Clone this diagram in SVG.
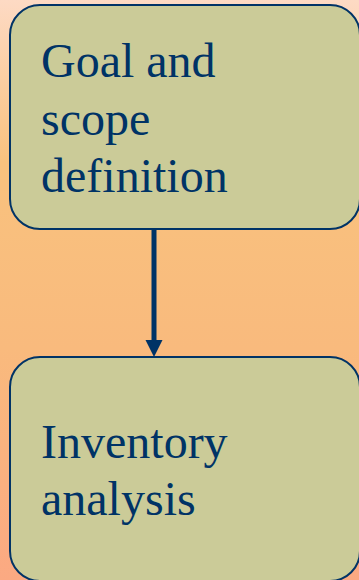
<svg xmlns="http://www.w3.org/2000/svg" width="359" height="580" viewBox="0 0 359 580">
  <defs>
    <linearGradient id="bg" x1="0" y1="0" x2="0" y2="1">
      <stop offset="0" stop-color="#FDDAC4"/>
      <stop offset="0.28" stop-color="#F9C27E"/>
      <stop offset="0.6" stop-color="#F9BA7D"/>
      <stop offset="1" stop-color="#FBA982"/>
    </linearGradient>
    <marker id="head" viewBox="0 0 10 10" refX="10" refY="5" markerWidth="17" markerHeight="17" markerUnits="userSpaceOnUse" orient="auto">
      <path d="M0,0 L10,5 L0,10 Z" fill="#003366"/>
    </marker>
  </defs>
  <style>
    .box { fill: #CBCB98; stroke: #003366; stroke-width: 2; }
    .label { font-family: "Liberation Serif", "Times New Roman", serif; font-size: 48px; fill: #003366; }
    .link { stroke: #003366; stroke-width: 5; fill: none; }
  </style>

  <rect x="0" y="0" width="359" height="580" fill="url(#bg)"/>

  <g id="connectors">
    <line class="link" x1="154" y1="229" x2="154" y2="342"/>
    <path d="M145.5,340 L162.5,340 L154,357 Z" fill="#003366"/>
  </g>

  <g id="goal-scope">
    <rect class="box" x="10" y="5" width="350" height="224" rx="30" ry="30"/>
    <text class="label" x="41" y="77">Goal and</text>
    <text class="label" x="41" y="135">scope</text>
    <text class="label" x="41" y="192">definition</text>
  </g>

  <g id="inventory">
    <rect class="box" x="10" y="357" width="350" height="224" rx="30" ry="30"/>
    <text class="label" x="41" y="458">Inventory</text>
    <text class="label" x="41" y="515">analysis</text>
  </g>
</svg>
